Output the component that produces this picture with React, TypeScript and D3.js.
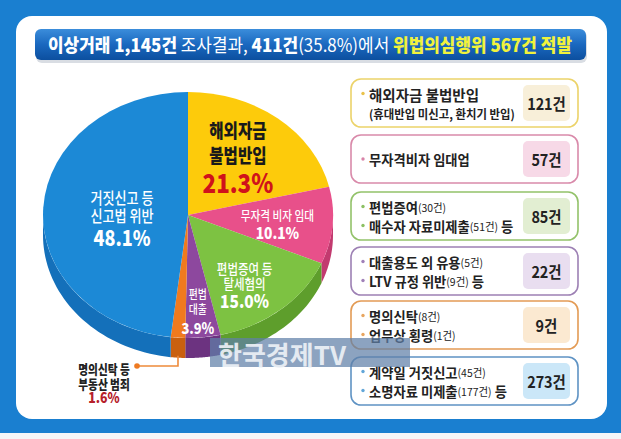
import React from 'react';
import * as d3 from 'd3';

const categories = ['해외자금 불법반입', '무자격 비자 임대', '편법증여 등 탈세혐의', '편법대출', '명의신탁 등 부동산 범죄', '거짓신고 등 신고법 위반'];
const shares = [21.3, 10.1, 15.0, 3.9, 1.6, 48.1];
const counts = [121, 57, 85, 22, 9, 273];
const sliceColors = ['#fdcb0b', '#e8508a', '#7dc242', '#8d489e', '#f07a1e', '#1c89d6'];
const sideColors = ['#d9a800', '#c23a6f', '#5e9e2c', '#6c3380', '#c9600f', '#1470ba'];
const pieLabelLines = [['해외자금', '불법반입'], ['무자격 비자 임대'], ['편법증여 등', '탈세혐의'], ['편법', '대출'], ['명의신탁 등', '부동산 범죄'], ['거짓신고 등', '신고법 위반']];
const pctLabels = ['21.3%', '10.1%', '15.0%', '3.9%', '1.6%', '48.1%'];

type Seg = { t: string; b?: boolean; s?: boolean };
const boxLines: Seg[][][] = [
  [[{ t: '해외자금 불법반입', b: true }], [{ t: '(휴대반입 미신고, 환치기 반입)', b: true }]],
  [[{ t: '무자격비자 임대업', b: true }]],
  [[{ t: '편법증여', b: true }, { t: '(30건)', s: true }], [{ t: '매수자 자료미제출', b: true }, { t: '(51건)', s: true }, { t: ' 등', b: true }]],
  [[{ t: '대출용도 외 유용', b: true }, { t: '(5건)', s: true }], [{ t: 'LTV 규정 위반', b: true }, { t: '(9건)', s: true }, { t: ' 등', b: true }]],
  [[{ t: '명의신탁', b: true }, { t: '(8건)', s: true }], [{ t: '업무상 횡령', b: true }, { t: '(1건)', s: true }]],
  [[{ t: '계약일 거짓신고', b: true }, { t: '(45건)', s: true }], [{ t: '소명자료 미제출', b: true }, { t: '(177건)', s: true }, { t: ' 등', b: true }]],
];
const boxBorders = ['#ecd36a', '#d98aaa', '#93c26a', '#9d80b4', '#e39b55', '#5f93c4'];
const boxFills = ['#f8efd9', '#f7d9e7', '#e2eed2', '#e9def0', '#fbe9d1', '#cbe7f8'];
const bulletColors = ['#e9c24a', '#d883a8', '#8cc063', '#a080b8', '#e8a560', '#62a6d8'];

const FONT = '"Noto Sans CJK KR", "Noto Sans", sans-serif';

// layout
const W = 621, H = 439;
const cx = 188, cy = 215, rx = 145, ry = 123, depth = 20;
const SX = 0.82;
const labelPos = [
  { a: 35, r: 0.6, dy: [-25, 0], pdy: 27, fs: 19, pfs: 26, dark: true },
  { a: 96, r: 0.62, dy: [-9], pdy: 9, fs: 13, pfs: 16 },
  { a: 145, r: 0.68, dy: [-16, -1], pdy: 17, fs: 14, pfs: 18 },
  { a: 175, r: 0.78, dy: [-17, -2], pdy: 17, fs: 12, pfs: 15 },
  null,
  { a: 270, r: 0.455, dy: [-18, 0], pdy: 22, fs: 16, pfs: 21 },
];
const boxX = 351, boxW = 227, boxH = 48;
const boxTops = [79, 135, 192, 247, 301, 357];

const pt = (t: number, dyy = 0): [number, number] => [cx + rx * Math.sin(t), cy - ry * Math.cos(t) + dyy];

function CText({ x, y, sx = SX, children, ...rest }: any) {
  return (
    <text transform={`translate(${x},${y}) scale(${sx},1)`} x={0} y={0} {...rest}>
      {children}
    </text>
  );
}

export default function App() {
  const pie = d3.pie<number>().sort(null).value((d) => d).startAngle(0).endAngle(2 * Math.PI);
  const arcs = pie(shares);
  const arcGen = d3.arc<d3.PieArcDatum<number>>().innerRadius(0).outerRadius(rx);

  const sidePath = (a0: number, a1: number) => {
    const s = Math.max(a0, Math.PI / 2);
    const e = Math.min(a1, (3 * Math.PI) / 2);
    if (s >= e) return null;
    const n = 40;
    const top = d3.range(n + 1).map((i) => pt(s + ((e - s) * i) / n));
    const bot = d3.range(n + 1).map((i) => pt(e - ((e - s) * i) / n, depth));
    return d3.line()([...top, ...bot]) + 'Z';
  };

  const orange = arcs[4];
  const om = (orange.startAngle + orange.endAngle) / 2;
  const [ox, oy] = pt(om, depth);
  const leaderY = 366, dotX = 137;

  return (
    <svg width={W} height={H} style={{ position: 'absolute', left: 0, top: 0 }} fontFamily={FONT}>
      <defs>
        <linearGradient id="tbar" x1="0" y1="0" x2="0" y2="1">
          <stop offset="0" stopColor="#3b8ddb" />
          <stop offset="0.5" stopColor="#1a68bf" />
          <stop offset="1" stopColor="#0c4f9f" />
        </linearGradient>
      </defs>
      <rect x={0} y={0} width={W} height={H} fill="#1a7fd0" />
      <rect x={0} y={433} width={W} height={6} fill="#f4f6f8" />
      <rect x={16} y={16} width={591} height={403} rx={16} fill="#ffffff" />
      {/* title bar */}
      <rect x={36} y={31} width={551} height={32} rx={6} fill="#d9dde3" />
      <rect x={35} y={29} width={551} height={31} rx={6} fill="url(#tbar)" />
      <text x={310} y={51.5} textAnchor="middle" fontSize={18} textLength={524} lengthAdjust="spacingAndGlyphs" fill="#fff">
        <tspan fontWeight={800}>이상거래 1,145건</tspan>
        <tspan fontWeight={400}> 조사결과, </tspan>
        <tspan fontWeight={800}>411건</tspan>
        <tspan fontWeight={400}>(35.8%)에서 </tspan>
        <tspan fontWeight={800} fill="#f1f23c">위법의심행위 567건 적발</tspan>
      </text>

      {/* pie sides */}
      {arcs.map((a, i) => {
        const p = sidePath(a.startAngle, a.endAngle);
        return p ? <path key={'s' + i} d={p} fill={sideColors[i]} /> : null;
      })}
      {/* pie tops */}
      <g transform={`translate(${cx},${cy}) scale(1,${ry / rx})`}>
        {arcs.map((a, i) => (
          <path key={'t' + i} d={arcGen(a) || ''} fill={sliceColors[i]} />
        ))}
      </g>

      {/* pie labels */}
      {arcs.map((a, i) => {
        const L = labelPos[i];
        if (!L) return null;
        const t = (L.a * Math.PI) / 180;
        const x = cx + rx * L.r * Math.sin(t);
        const y = cy - ry * L.r * Math.cos(t);
        const col = L.dark ? '#1a1a1a' : '#ffffff';
        return (
          <g key={'l' + i} textAnchor="middle">
            {pieLabelLines[i].map((ln, j) => (
              <CText key={j} x={x} y={y + L.dy[j]} fontSize={L.fs} fontWeight={L.dark ? 800 : 500} fill={col} dominantBaseline="central">
                {ln}
              </CText>
            ))}
            <CText x={x} y={y + L.pdy} sx={0.86} fontSize={L.pfs} fontWeight={800} fill={L.dark ? '#d0121b' : '#fff'} dominantBaseline="central">
              {pctLabels[i]}
            </CText>
          </g>
        );
      })}

      {/* leader for small slice */}
      <polyline points={`${ox},${oy - 2} ${ox},${leaderY} ${dotX},${leaderY}`} fill="none" stroke="#ee8a3a" strokeWidth={1.6} />
      <circle cx={dotX} cy={leaderY} r={2.8} fill="#ee7a22" />
      <g textAnchor="middle" fontWeight={800}>
        <CText x={104} y={368} fontSize={13} fill="#222" dominantBaseline="central">{pieLabelLines[4][0]}</CText>
        <CText x={104} y={382.5} fontSize={13} fill="#222" dominantBaseline="central">{pieLabelLines[4][1]}</CText>
        <CText x={104} y={397.5} sx={0.88} fontSize={14} fill="#b6202a" dominantBaseline="central">{pctLabels[4]}</CText>
      </g>

      {/* boxes */}
      {boxTops.map((by, i) => {
        const lines = boxLines[i];
        const mid = by + boxH / 2;
        const offs = lines.length === 1 ? [0] : [-9.5, 9.5];
        return (
          <g key={'b' + i}>
            <rect x={boxX} y={by} width={boxW} height={boxH} rx={10} fill="#fff" stroke={boxBorders[i]} strokeWidth={1.6} />
            <rect x={523} y={by + 6} width={47} height={boxH - 12} rx={5} fill={boxFills[i]} />
            <CText x={546.5} y={mid} sx={0.9} textAnchor="middle" dominantBaseline="central" fontSize={16} fontWeight={700} fill="#222">
              {counts[i]}건
            </CText>
            {lines.map((ln, j) => {
              const ly = mid + offs[j];
              const bullet = !(i === 0 && j === 1);
              const first = i === 0 && j === 0;
              const sub = i === 0 && j === 1;
              return (
                <g key={j}>
                  {bullet && <circle cx={363} cy={ly} r={1.7} fill={bulletColors[i]} />}
                  <CText x={369} y={ly} sx={first ? 1 : 0.95} dominantBaseline="central" fill="#222" fontSize={14}>
                    {ln.map((sg, k) => (
                      <tspan key={k} fontWeight={sg.s ? 400 : 700} fontSize={first ? 14.5 : sub ? 12 : sg.s ? 11 : 14}>
                        {sg.t}
                      </tspan>
                    ))}
                  </CText>
                </g>
              );
            })}
          </g>
        );
      })}

      {/* watermark */}
      <rect x={210} y={338} width={200} height={29} fill="#5f7fa8" opacity={0.72} />
      <text x={218} y={353} dominantBaseline="central" fontSize={26} fontWeight={700} fill="#eef2f7" opacity={0.9}>
        한국경제TV
      </text>
    </svg>
  );
}
